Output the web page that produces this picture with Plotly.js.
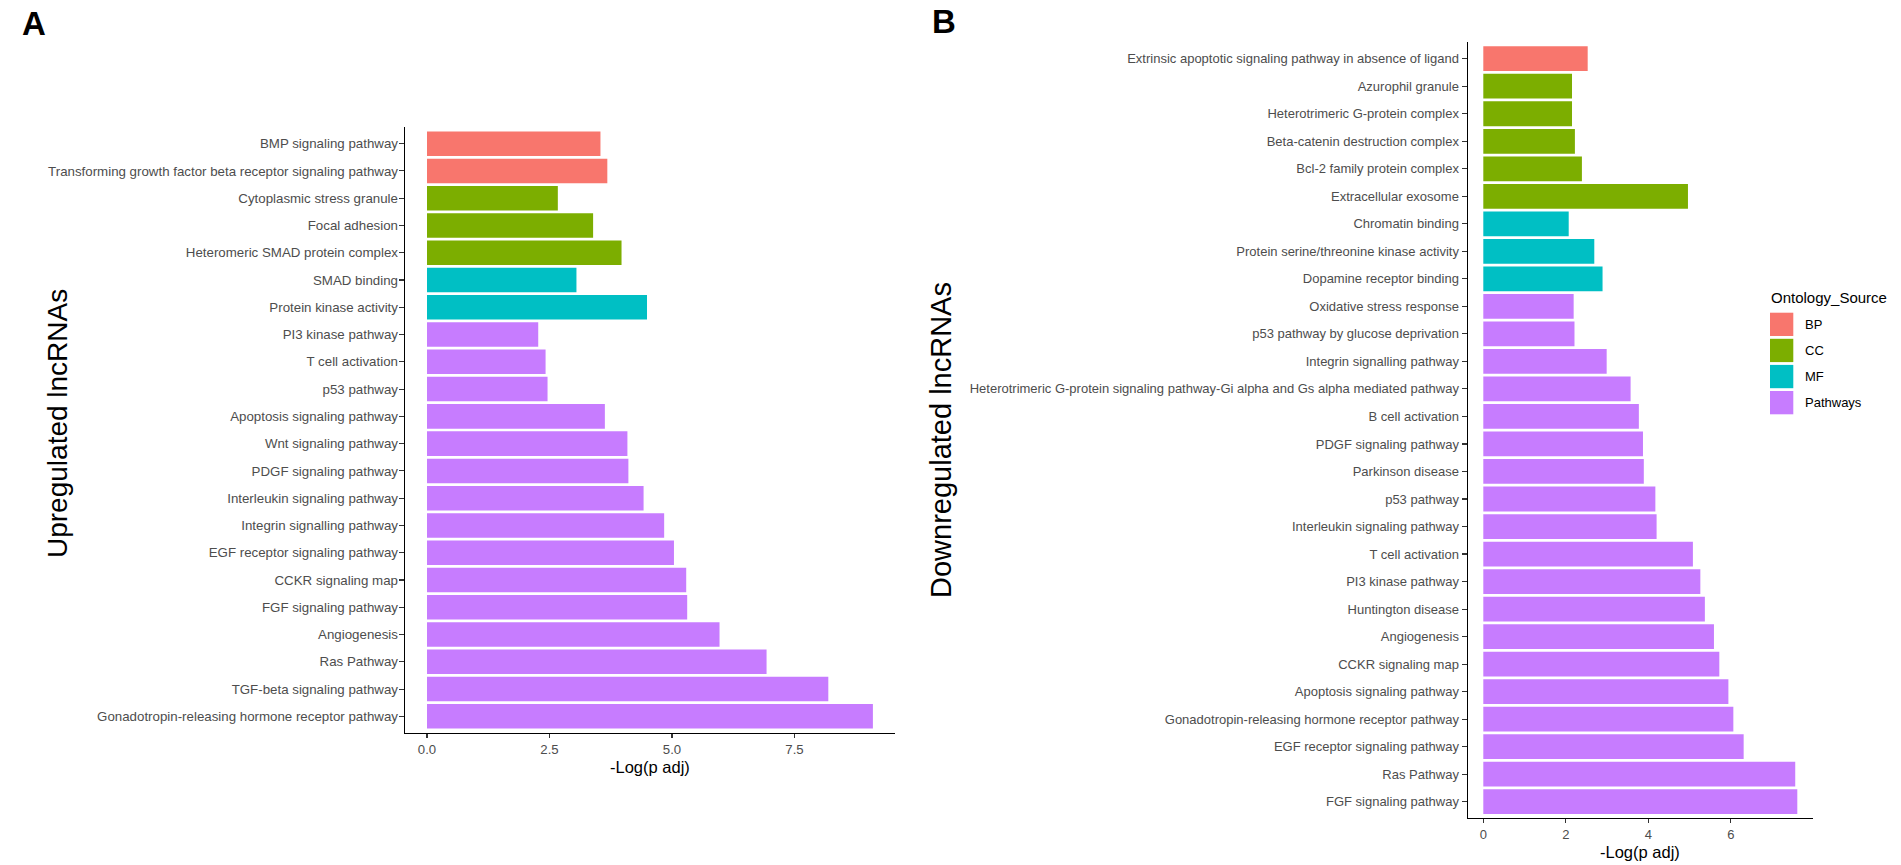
<!DOCTYPE html>
<html>
<head>
<meta charset="utf-8">
<script src="https://cdn.plot.ly/plotly-3.0.1.min.js"></script>
<style>html,body{margin:0;padding:0;background:#fff;}#chart{width:1901px;height:865px;}</style>
</head>
<body>
<div id="chart"></div>
<script>
// ---- Data ----
const upCategories = [
  'BMP signaling pathway',
  'Transforming growth factor beta receptor signaling pathway',
  'Cytoplasmic stress granule',
  'Focal adhesion',
  'Heteromeric SMAD protein complex',
  'SMAD binding',
  'Protein kinase activity',
  'PI3 kinase pathway',
  'T cell activation',
  'p53 pathway',
  'Apoptosis signaling pathway',
  'Wnt signaling pathway',
  'PDGF signaling pathway',
  'Interleukin signaling pathway',
  'Integrin signalling pathway',
  'EGF receptor signaling pathway',
  'CCKR signaling map',
  'FGF signaling pathway',
  'Angiogenesis',
  'Ras Pathway',
  'TGF-beta signaling pathway',
  'Gonadotropin-releasing hormone receptor pathway'
];
const upValues = [3.54, 3.68, 2.67, 3.39, 3.97, 3.05, 4.49, 2.27, 2.42, 2.46, 3.63,
  4.09, 4.11, 4.42, 4.84, 5.04, 5.29, 5.31, 5.97, 6.93, 8.19, 9.10];
const upSources = ['BP','BP','CC','CC','CC','MF','MF',
  'Pathways','Pathways','Pathways','Pathways','Pathways','Pathways','Pathways','Pathways',
  'Pathways','Pathways','Pathways','Pathways','Pathways','Pathways','Pathways'];

const downCategories = [
  'Extrinsic apoptotic signaling pathway in absence of ligand',
  'Azurophil granule',
  'Heterotrimeric G-protein complex',
  'Beta-catenin destruction complex',
  'Bcl-2 family protein complex',
  'Extracellular exosome',
  'Chromatin binding',
  'Protein serine/threonine kinase activity',
  'Dopamine receptor binding',
  'Oxidative stress response',
  'p53 pathway by glucose deprivation',
  'Integrin signalling pathway',
  'Heterotrimeric G-protein signaling pathway-Gi alpha and Gs alpha mediated pathway',
  'B cell activation',
  'PDGF signaling pathway',
  'Parkinson disease',
  'p53 pathway',
  'Interleukin signaling pathway',
  'T cell activation',
  'PI3 kinase pathway',
  'Huntington disease',
  'Angiogenesis',
  'CCKR signaling map',
  'Apoptosis signaling pathway',
  'Gonadotropin-releasing hormone receptor pathway',
  'EGF receptor signaling pathway',
  'Ras Pathway',
  'FGF signaling pathway'
];
const downValues = [2.53, 2.15, 2.15, 2.22, 2.39, 4.96, 2.07, 2.69, 2.89, 2.19, 2.21,
  2.99, 3.57, 3.77, 3.87, 3.89, 4.17, 4.20, 5.08, 5.26, 5.37, 5.59, 5.72, 5.94, 6.06,
  6.31, 7.56, 7.61];
const downSources = ['BP','CC','CC','CC','CC','CC','MF','MF','MF',
  'Pathways','Pathways','Pathways','Pathways','Pathways','Pathways','Pathways','Pathways',
  'Pathways','Pathways','Pathways','Pathways','Pathways','Pathways','Pathways','Pathways',
  'Pathways','Pathways','Pathways'];

const sourceNames = ['BP', 'CC', 'MF', 'Pathways'];
const sourceColors = ['#F8766D', '#7CAE00', '#00BFC4', '#C77CFF'];

const upTickVals = [0, 2.5, 5, 7.5];
const upTickText = ['0.0', '2.5', '5.0', '7.5'];
const downTickVals = [0, 2, 4, 6];
const downTickText = ['0', '2', '4', '6'];

// ---- Build ----
const W = 1901, H = 865;
const px = v => v / W;
const py = v => 1 - v / H;
const FONT = 'Liberation Sans, Arial, sans-serif';

function makeTraces(cats, vals, srcs, xa, ya) {
  return sourceNames.map((s, i) => {
    const y = [], x = [];
    cats.forEach((c, k) => { if (srcs[k] === s) { y.push(c); x.push(vals[k]); } });
    return {
      type: 'bar', orientation: 'h', x: x, y: y, xaxis: xa, yaxis: ya,
      name: s, width: 0.9, showlegend: false, hoverinfo: 'x+y',
      marker: { color: sourceColors[i], line: { width: 0 } }
    };
  });
}

const traces = makeTraces(upCategories, upValues, upSources, 'x', 'y')
  .concat(makeTraces(downCategories, downValues, downSources, 'x2', 'y2'));

const upMax = Math.max(...upValues), downMax = Math.max(...downValues);

function baseAxis(fs) {
  return {
    showline: true, linecolor: '#000', linewidth: 1.1, ticks: 'outside', ticklen: 4,
    tickcolor: '#333', tickwidth: 1.1, showgrid: false, zeroline: false, automargin: false,
    tickfont: { family: FONT, size: fs, color: '#4D4D4D' }, fixedrange: true
  };
}

const A = { left: 404.7, right: 895.2, top: 127.3, bottom: 732.7 };
const B = { left: 1467.6, right: 1813, top: 42.2, bottom: 818.2 };

const layout = {
  width: W, height: H, autosize: false,
  margin: { l: 0, r: 0, t: 0, b: 0, pad: 0 },
  paper_bgcolor: '#fff', plot_bgcolor: '#fff',
  barmode: 'overlay', showlegend: false,
  font: { family: FONT },
  xaxis: Object.assign(baseAxis(13.2), {
    domain: [px(A.left), px(A.right)], anchor: 'y',
    range: [-0.05 * upMax, upMax * 1.05],
    tickvals: upTickVals, ticktext: upTickText
  }),
  yaxis: Object.assign(baseAxis(13.3), {
    type: 'category', categoryorder: 'array', ticklen: 5, ticklabelstandoff: -2,
    domain: [py(A.bottom), py(A.top)], anchor: 'x',
    categoryarray: upCategories,
    range: [upCategories.length - 0.4, -0.6]
  }),
  xaxis2: Object.assign(baseAxis(13), {
    domain: [px(B.left), px(B.right)], anchor: 'y2',
    range: [-0.05 * downMax, downMax * 1.05],
    tickvals: downTickVals, ticktext: downTickText
  }),
  yaxis2: Object.assign(baseAxis(13), {
    type: 'category', categoryorder: 'array', ticklen: 5,
    domain: [py(B.bottom), py(B.top)], anchor: 'x2',
    categoryarray: downCategories,
    range: [downCategories.length - 0.4, -0.6]
  }),
  annotations: [],
  shapes: []
};

// x-axis titles
[A, B].forEach(P => {
  layout.annotations.push({ text: '-Log(p adj)', xref: 'paper', yref: 'paper',
    x: px((P.left + P.right) / 2), y: py(P.bottom + 23), xanchor: 'center', yanchor: 'top',
    showarrow: false, font: { family: FONT, size: 16.5, color: '#000' } });
});

// panel letters
layout.annotations.push({ text: '<b>A</b>', xref: 'paper', yref: 'paper', x: px(20), y: py(23),
  xanchor: 'left', yanchor: 'middle', showarrow: false, font: { family: FONT, size: 33, color: '#000' } });
layout.annotations.push({ text: '<b>B</b>', xref: 'paper', yref: 'paper', x: px(930), y: py(21),
  xanchor: 'left', yanchor: 'middle', showarrow: false, font: { family: FONT, size: 33, color: '#000' } });

// y-axis titles
layout.annotations.push({ text: 'Upregulated lncRNAs', textangle: -90, xref: 'paper', yref: 'paper',
  x: px(57), y: py(424), xanchor: 'center', yanchor: 'middle', showarrow: false,
  font: { family: FONT, size: 28, color: '#000' } });
layout.annotations.push({ text: 'Downregulated lncRNAs', textangle: -90, xref: 'paper', yref: 'paper',
  x: px(941), y: py(440), xanchor: 'center', yanchor: 'middle', showarrow: false,
  font: { family: FONT, size: 29, color: '#000' } });

// legend
layout.annotations.push({ text: 'Ontology_Source', xref: 'paper', yref: 'paper',
  x: px(1769), y: py(297), xanchor: 'left', yanchor: 'middle', showarrow: false,
  font: { family: FONT, size: 15, color: '#000' } });
sourceNames.forEach((s, i) => {
  const top = 312.7 + i * 26.1;
  layout.shapes.push({ type: 'rect', xref: 'paper', yref: 'paper',
    x0: px(1770), x1: px(1793.3), y0: py(top + 23.3), y1: py(top),
    fillcolor: sourceColors[i], line: { width: 0 } });
  layout.annotations.push({ text: s, xref: 'paper', yref: 'paper',
    x: px(1803), y: py(top + 11.65), xanchor: 'left', yanchor: 'middle', showarrow: false,
    font: { family: FONT, size: 13, color: '#000' } });
});

Plotly.newPlot('chart', traces, layout, { displayModeBar: false, staticPlot: true });
</script>
</body>
</html>
